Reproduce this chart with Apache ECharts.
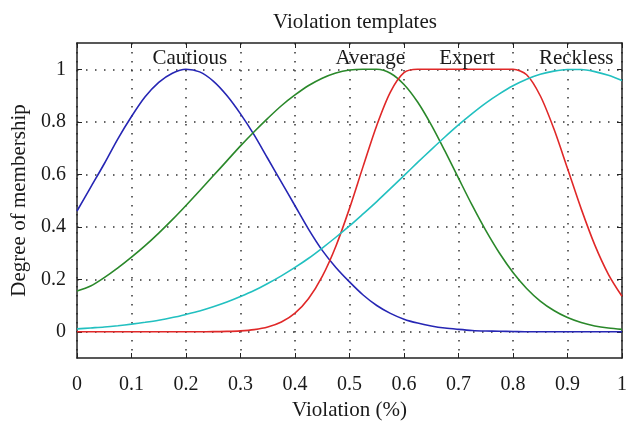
<!DOCTYPE html>
<html>
<head>
<meta charset="utf-8">
<script src="https://cdn.jsdelivr.net/npm/echarts@6/dist/echarts.min.js"></script>
<style>
  html, body { margin: 0; padding: 0; background: #fff; }
  #main { width: 626px; height: 421px; }
</style>
</head>
<body>
<div id="main"></div>
<script>
// x positions (violation, 0..1) shared by all four curves
const xs = [0, 0.025, 0.05, 0.075, 0.1, 0.125, 0.15, 0.175, 0.2, 0.225, 0.25, 0.275, 0.3, 0.325, 0.35, 0.375, 0.4, 0.425, 0.45, 0.475, 0.5,
  0.525, 0.55, 0.575, 0.6, 0.625, 0.65, 0.675, 0.7, 0.725, 0.75, 0.775, 0.8, 0.825, 0.85, 0.875, 0.9, 0.925, 0.95, 0.975, 1];

// membership degrees
const cautious = [0.46, 0.55, 0.64, 0.735, 0.82, 0.895, 0.95, 0.985, 1, 0.99, 0.955, 0.9, 0.83, 0.75, 0.66, 0.57, 0.48, 0.39, 0.31, 0.245, 0.19,
  0.14, 0.10, 0.07, 0.048, 0.033, 0.022, 0.014, 0.009, 0.005, 0.003, 0.002, 0.001, 0, 0, 0, 0, 0, 0, 0, 0];
const average = [0.155, 0.174, 0.206, 0.243, 0.284, 0.328, 0.376, 0.427, 0.481, 0.537, 0.594, 0.651, 0.708, 0.762, 0.813, 0.861, 0.902, 0.938, 0.966, 0.986, 0.997,
  1, 1, 0.985, 0.942, 0.875, 0.788, 0.689, 0.585, 0.482, 0.386, 0.300, 0.226, 0.165, 0.117, 0.081, 0.054, 0.035, 0.022, 0.014, 0.009];
const expert = [0, 0, 0, 0, 0, 0, 0, 0, 0, 0, 0.0005, 0.0013, 0.0034, 0.0082, 0.018, 0.037, 0.071, 0.127, 0.211, 0.326, 0.47,
  0.63, 0.786, 0.913, 0.987, 1, 1, 1, 1, 1, 1, 1, 1, 0.979, 0.899, 0.773, 0.622, 0.469, 0.331, 0.219, 0.135];
const reckless = [0.011, 0.0145, 0.018, 0.023, 0.029, 0.036, 0.044, 0.054, 0.066, 0.079, 0.095, 0.113, 0.134, 0.157, 0.184, 0.213, 0.245, 0.28, 0.319, 0.36, 0.403,
  0.449, 0.496, 0.545, 0.595, 0.645, 0.694, 0.742, 0.788, 0.831, 0.871, 0.906, 0.937, 0.962, 0.981, 0.993, 0.999, 0.999, 0.991, 0.977, 0.957];

const seriesNames = ['Cautious', 'Average', 'Expert', 'Reckless'];
const seriesColors = ['#2626b4', '#2a882a', '#e02828', '#22c0c0'];
// where each template name is written inside the plot
const labelX = [0.207, 0.538, 0.716, 0.916];
const labelY = [1.042, 1.042, 1.042, 1.042];

const yTicks = [0, 0.2, 0.4, 0.6, 0.8, 1];

const chart = echarts.init(document.getElementById('main'));
const font = '"Liberation Serif", "DejaVu Serif", serif';
const ink = '#1a1a1a';

const lines = [cautious, average, expert, reckless].map((vals, i) => ({
  name: seriesNames[i],
  type: 'line',
  data: xs.map((x, j) => [x, vals[j]]),
  showSymbol: false,
  smooth: 0.3,
  lineStyle: { color: seriesColors[i], width: 1.6 },
  itemStyle: { color: seriesColors[i] },
  z: 3
}));

const boxLine = { onZero: false, lineStyle: { color: '#222', width: 1.5 } };
const dotted = { show: true, lineStyle: { color: '#333', width: 1.5, type: [1.5, 7.5] } };

const option = {
  backgroundColor: '#fff',
  animation: false,
  title: {
    text: 'Violation templates',
    left: 350,
    textAlign: 'center',
    top: 7,
    textStyle: { fontFamily: font, fontSize: 21, fontWeight: 'normal', color: ink }
  },
  grid: { left: 77, right: 4, top: 43, bottom: 63, containLabel: false, outerBoundsMode: 'none' },
  xAxis: [{
    type: 'value',
    min: 0, max: 1, interval: 0.1,
    name: 'Violation (%)',
    nameLocation: 'middle',
    nameGap: 42,
    nameTextStyle: { fontFamily: font, fontSize: 21, color: ink },
    axisLine: boxLine,
    axisTick: { inside: true, length: 5, lineStyle: { color: '#222' } },
    axisLabel: { fontFamily: font, fontSize: 20, color: ink, margin: 17 },
    splitLine: dotted
  }, {
    type: 'value',
    position: 'top',
    min: 0, max: 1, interval: 0.1,
    axisLine: boxLine,
    axisTick: { inside: true, length: 5, lineStyle: { color: '#222' } },
    axisLabel: { show: false },
    splitLine: { show: false }
  }],
  yAxis: [{
    type: 'value',
    min: -0.1, max: 1.1, interval: 0.1,
    name: 'Degree of membership',
    nameLocation: 'middle',
    nameGap: 45,
    nameTextStyle: { fontFamily: font, fontSize: 21, color: ink },
    axisLine: Object.assign({ show: true }, boxLine),
    axisTick: { inside: true, length: 5, lineStyle: { color: '#222' }, customValues: yTicks },
    axisLabel: { fontFamily: font, fontSize: 20, color: ink, margin: 11, customValues: yTicks },
    splitLine: dotted
  }, {
    type: 'value',
    position: 'right',
    min: -0.1, max: 1.1, interval: 0.1,
    axisLine: Object.assign({ show: true }, boxLine),
    axisTick: { inside: true, length: 5, lineStyle: { color: '#222' }, customValues: yTicks },
    axisLabel: { show: false, customValues: yTicks },
    splitLine: { show: false }
  }],
  series: lines.concat([{
    type: 'scatter',
    symbolSize: 0,
    silent: true,
    itemStyle: { opacity: 1 },
    data: seriesNames.map((n, i) => ({ name: n, value: [labelX[i], labelY[i]] })),
    label: {
      show: true,
      position: 'inside',
      formatter: p => p.name,
      fontFamily: font,
      fontSize: 21,
      color: ink
    },
    z: 4
  }])
};

chart.setOption(option);
</script>
</body>
</html>
